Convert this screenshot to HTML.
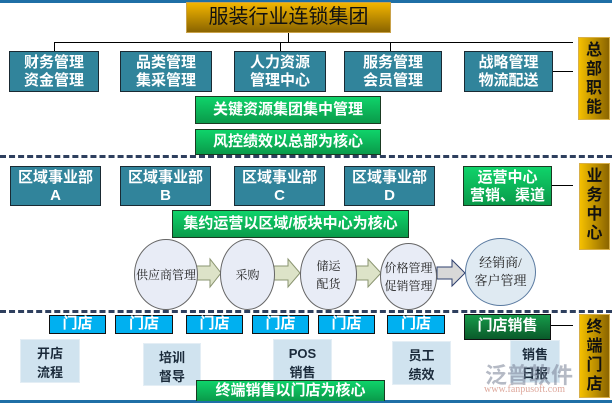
<!DOCTYPE html>
<html><head><meta charset="utf-8"><style>
*{margin:0;padding:0;box-sizing:border-box}
body{width:612px;height:403px;position:relative;overflow:hidden;background:#fff;font-family:"Liberation Sans","Noto Sans CJK SC",sans-serif}
.a{position:absolute}
.t{background:#31849b;border:1.5px solid #1a2a33;color:#fff;font-size:15px;line-height:18px;text-align:center;padding-top:2px;font-weight:bold}
.g{background:linear-gradient(#0fd36a,#0a9a4a);border:1.5px solid #1a3a22;color:#fff;font-size:15px;font-weight:bold;text-align:center}
.s{background:linear-gradient(90deg,#f5c000,#8a6400);border:1px solid #d8b04a;color:#111;font-size:16px;font-weight:bold;text-align:center;line-height:19px;padding-top:3px}
.m{background:#00b0f0;border:1.5px solid #111;color:#fff;font-size:15px;font-weight:bold;text-align:center;line-height:16px}
.l{background:#d0e3ef;border:1px solid #e4eef5;color:#1a2a3a;font-size:13px;font-weight:bold;text-align:center;line-height:19px;padding-top:4px}
.c{border:1px solid #666;border-radius:50%;background:#e8ecf6;font-family:"Liberation Serif","Noto Serif CJK SC",serif;font-size:12px;color:#222;display:flex;align-items:center;justify-content:center;text-align:center;line-height:18px}
.d{height:0;border-top:3px dashed #2e3f5e}
.ln{background:#000}
</style></head><body>
<div class="a" style="left:0;top:0;width:612px;height:3px;background:#1f6fa6"></div>
<div class="a" style="left:0;top:400px;width:612px;height:3px;background:#1f6fa6"></div>
<div class="a" style="left:186px;top:2px;width:205px;height:31px;background:linear-gradient(#f2b500,#8a6400);border:1px solid #c9a24a;font-size:20px;text-align:center;line-height:29px;color:#111">服装行业连锁集团</div>
<div class="a ln" style="left:288px;top:33px;width:1px;height:9px"></div>
<div class="a ln" style="left:54px;top:42px;width:519px;height:1px"></div>
<div class="a ln" style="left:54px;top:42px;width:1px;height:9px"></div>
<div class="a ln" style="left:280px;top:42px;width:1px;height:9px"></div>
<div class="a ln" style="left:390px;top:42px;width:1px;height:9px"></div>
<div class="a ln" style="left:553px;top:71px;width:20px;height:1px"></div>
<div class="a t" style="left:9px;top:51px;width:90px;height:41px">财务管理<br>资金管理</div>
<div class="a t" style="left:120px;top:51px;width:92px;height:41px">品类管理<br>集采管理</div>
<div class="a t" style="left:234px;top:51px;width:92px;height:41px">人力资源<br>管理中心</div>
<div class="a t" style="left:344px;top:51px;width:98px;height:41px">服务管理<br>会员管理</div>
<div class="a t" style="left:464px;top:51px;width:89px;height:41px">战略管理<br>物流配送</div>
<div class="a g" style="left:195px;top:96px;width:186px;height:28px;line-height:25px">关键资源集团集中管理</div>
<div class="a g" style="left:195px;top:129px;width:186px;height:26px;line-height:23px">风控绩效以总部为核心</div>
<div class="a s" style="left:578px;top:37px;width:32px;height:83px">总<br>部<br>职<br>能</div>
<div class="a d" style="left:0;top:155px;width:612px"></div>
<div class="a t" style="left:10px;top:166px;width:91px;height:40px">区域事业部<br>A</div>
<div class="a t" style="left:120px;top:166px;width:91px;height:40px">区域事业部<br>B</div>
<div class="a t" style="left:234px;top:166px;width:91px;height:40px">区域事业部<br>C</div>
<div class="a t" style="left:344px;top:166px;width:91px;height:40px">区域事业部<br>D</div>
<div class="a g" style="left:463px;top:166px;width:89px;height:40px;line-height:18px;padding-top:2px">运营中心<br>营销、渠道</div>
<div class="a ln" style="left:552px;top:185px;width:21px;height:1px"></div>
<div class="a s" style="left:579px;top:163px;width:31px;height:87px">业<br>务<br>中<br>心</div>
<div class="a g" style="left:172px;top:210px;width:237px;height:28px;line-height:25px">集约运营以区域/板块中心为核心</div>
<svg class="a" style="left:0;top:0" width="612" height="403">
<g fill="#dde3c8" stroke="#8a9470" stroke-width="1">
<polygon points="196,266 210,266 210,259 221,273 210,287 210,280 196,280"/>
<polygon points="274,266 288,266 288,259 300,273 288,287 288,280 274,280"/>
<polygon points="356,266 368,266 368,259 381,273 368,287 368,280 356,280"/>
</g>
<polygon points="437,267 452,267 452,260 465,273 452,286 452,279 437,279" fill="#d8d8d8" stroke="#2e3f6e" stroke-width="1"/>
</svg>
<div class="a c" style="left:134px;top:239px;width:64px;height:71px">供应商管理</div>
<div class="a c" style="left:220px;top:239px;width:55px;height:71px">采购</div>
<div class="a c" style="left:300px;top:239px;width:57px;height:71px">储运<br>配货</div>
<div class="a c" style="left:380px;top:243px;width:57px;height:67px">价格管理<br>促销管理</div>
<div class="a c" style="left:465px;top:238px;width:71px;height:68px;background:#dfeaf2;border-color:#5a7aa0;font-size:13px">经销商/<br>客户管理</div>
<div class="a d" style="left:0;top:310px;width:612px"></div>
<div class="a m" style="left:49px;top:315px;width:57px;height:19px">门店</div>
<div class="a m" style="left:115px;top:315px;width:58px;height:19px">门店</div>
<div class="a m" style="left:186px;top:315px;width:57px;height:19px">门店</div>
<div class="a m" style="left:252px;top:315px;width:57px;height:19px">门店</div>
<div class="a m" style="left:318px;top:315px;width:57px;height:19px">门店</div>
<div class="a m" style="left:387px;top:315px;width:58px;height:19px">门店</div>
<div class="a" style="left:464px;top:314px;width:87px;height:26px;background:linear-gradient(#169a4a,#0a5a2a);border:1.5px solid #111;color:#fff;font-size:15px;font-weight:bold;text-align:center;line-height:22px">门店销售</div>
<div class="a ln" style="left:551px;top:325px;width:22px;height:1px"></div>
<div class="a s" style="left:579px;top:314px;width:31px;height:84px;line-height:19px">终<br>端<br>门<br>店</div>
<div class="a l" style="left:20px;top:339px;width:60px;height:44px">开店<br>流程</div>
<div class="a l" style="left:143px;top:343px;width:58px;height:43px">培训<br>督导</div>
<div class="a l" style="left:273px;top:339px;width:59px;height:44px">POS<br>销售</div>
<div class="a l" style="left:392px;top:341px;width:59px;height:44px">员工<br>绩效</div>
<div class="a l" style="left:510px;top:340px;width:50px;height:43px">销售<br>日报</div>
<div class="a" style="left:485px;top:358px;font-size:22px;color:rgba(120,130,150,.55);font-weight:bold">泛普软件</div>
<div class="a" style="left:484px;top:384px;font-size:10px;color:rgba(200,110,90,.6);font-family:'Liberation Serif',serif">www.fanpusoft.com</div>
<div class="a g" style="left:196px;top:380px;width:189px;height:21px;line-height:19px;border-bottom:none">终端销售以门店为核心</div>
</body></html>
